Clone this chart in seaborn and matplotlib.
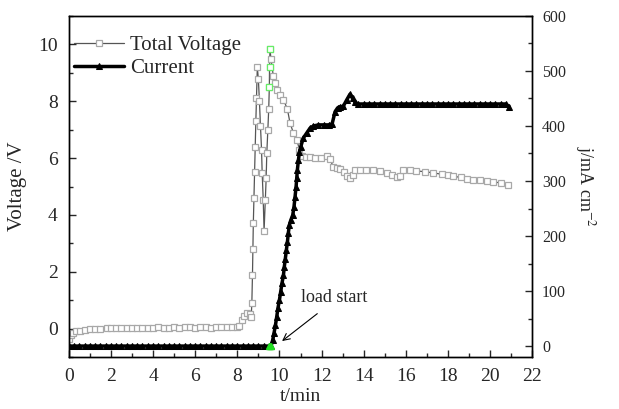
import matplotlib
matplotlib.use("Agg")
import matplotlib.pyplot as plt
import seaborn as sns
import pandas as pd
from matplotlib.ticker import MultipleLocator

# Total voltage (left axis)
volt_t = [0.0, 0.1, 0.22, 0.35, 0.54, 0.75, 1.0, 1.25, 1.5, 1.8, 2.0, 2.25, 2.5, 2.75,
          3.0, 3.25, 3.5, 3.75, 4.0, 4.25, 4.5, 4.75, 5.0, 5.25, 5.5, 5.75, 6.0, 6.25,
          6.5, 6.75, 7.0, 7.25, 7.5, 7.75, 8.0, 8.1, 8.2, 8.3, 8.45, 8.6, 8.66,
          8.69, 8.72, 8.74, 8.76, 8.79, 8.82, 8.85, 8.88, 8.91, 8.95,
          9.0, 9.05, 9.1, 9.15, 9.18, 9.23, 9.27,
          9.33, 9.37, 9.4, 9.45, 9.49, 9.52, 9.53, 9.55,
          9.6, 9.71, 9.79, 9.87, 10.03, 10.19, 10.38, 10.5, 10.66, 10.82, 10.95, 11.06,
          11.25, 11.45, 11.7, 11.95, 12.25, 12.4, 12.56, 12.72, 12.88, 13.05, 13.19,
          13.35, 13.47, 13.59, 13.83, 14.1, 14.46, 14.75, 15.09, 15.35, 15.57, 15.72,
          15.88, 16.2, 16.5, 16.9, 17.3, 17.7, 18.0, 18.25, 18.6, 18.9, 19.2, 19.5,
          19.85, 20.15, 20.5, 20.86]
volt_v = [-0.35, -0.22, -0.15, -0.1, -0.07, -0.04, -0.02, 0.0, 0.0, 0.01, 0.02, 0.02, 0.03, 0.02,
          0.03, 0.03, 0.02, 0.03, 0.03, 0.04, 0.03, 0.03, 0.04, 0.03, 0.04, 0.04, 0.03, 0.04,
          0.04, 0.03, 0.04, 0.04, 0.05, 0.04, 0.05, 0.1, 0.3, 0.45, 0.55, 0.5, 0.4,
          0.9, 1.9, 2.8, 3.7, 4.6, 5.5, 6.4, 7.3, 8.1, 9.2,
          8.77, 8.0, 7.12, 6.3, 5.48, 4.54, 3.42,
          4.54, 5.3, 6.18, 7.0, 7.71, 8.5, 9.2, 9.84,
          9.47, 8.88, 8.65, 8.41, 8.23, 8.06, 7.71, 7.24, 6.89, 6.65, 6.3, 6.09,
          6.05, 6.04, 6.02, 6.0, 6.07, 5.95, 5.69, 5.65, 5.62, 5.5, 5.36,
          5.29, 5.42, 5.57, 5.59, 5.57, 5.57, 5.53, 5.48, 5.42, 5.34, 5.38,
          5.59, 5.57, 5.55, 5.52, 5.48, 5.43, 5.4, 5.36, 5.32, 5.28, 5.24, 5.22,
          5.2, 5.17, 5.12, 5.06]

# Current density (right axis)
cur_t = [0.0, 0.25, 0.5, 0.75, 1.0, 1.25, 1.5, 1.75, 2.0, 2.25, 2.5, 2.75, 3.0, 3.25,
         3.5, 3.75, 4.0, 4.25, 4.5, 4.75, 5.0, 5.25, 5.5, 5.75, 6.0, 6.25, 6.5, 6.75,
         7.0, 7.25, 7.5, 7.75, 8.0, 8.25, 8.5, 8.75, 9.0, 9.25, 9.5, 9.6,
         9.68, 9.74, 9.81, 9.87, 9.93, 10.0, 10.06, 10.12, 10.19, 10.23, 10.28, 10.33,
         10.38, 10.42, 10.47, 10.54, 10.63, 10.69, 10.74, 10.79, 10.82, 10.85, 10.9,
         10.95, 11.01, 11.13, 11.29, 11.45, 11.61, 11.85, 12.1, 12.35, 12.5, 12.64,
         12.76, 12.88, 13.03, 13.2, 13.35, 13.47, 13.59, 13.75, 14.0, 14.25, 14.5,
         14.75, 15.0, 15.25, 15.5, 15.75, 16.0, 16.25, 16.5, 16.75, 17.0, 17.25, 17.5,
         17.75, 18.0, 18.25, 18.5, 18.75, 19.0, 19.25, 19.5, 19.75, 20.0, 20.25, 20.5,
         20.75, 20.9]
cur_j = [0, 0, 0, 0, 0, 0, 0, 0, 0, 0, 0, 0, 0, 0,
         0, 0, 0, 0, 0, 0, 0, 0, 0, 0, 0, 0, 0, 0,
         0, 0, 0, 0, 0, 0, 0, 0, 0, 0, 0, 0,
         11, 23, 38, 53, 69, 84, 99, 114, 129, 144, 159, 175,
         190, 205, 220, 229, 238, 253, 271, 290, 305, 320, 338,
         353, 362, 378, 387, 396, 400, 402, 402, 402, 404, 426,
         433, 435, 436, 448, 458, 450, 443, 440, 440, 440, 440,
         440, 440, 440, 440, 440, 440, 440, 440, 440, 440, 440, 440,
         440, 440, 440, 440, 440, 440, 440, 440, 440, 440, 440, 440,
         440, 435]

# points drawn in green in the original
green_v_t = [9.52, 9.53, 9.55]
green_v = [8.5, 9.2, 9.84]
green_j_t = [9.5, 9.55, 9.6]
green_j = [0, 0, 0]

sns.set_theme(style="ticks")
plt.rcParams["font.family"] = ["Liberation Serif", "DejaVu Serif"]
plt.rcParams["mathtext.fontset"] = "stix"

volt_df = pd.DataFrame({"t": volt_t, "V": volt_v})
cur_df = pd.DataFrame({"t": cur_t, "j": cur_j})

fig = plt.figure(figsize=(6.19, 4.09), dpi=100)
ax = fig.add_axes([0.111, 0.127, 0.749, 0.834])
ax2 = ax.twinx()

sns.lineplot(data=volt_df, x="t", y="V", ax=ax, sort=False, estimator=None,
             color="#555555", linewidth=0.9, marker="s", markersize=4.5,
             markerfacecolor="white", markeredgecolor="#a8a8a8", markeredgewidth=0.9,
             label="Total Voltage", legend=False)
ax.plot(green_v_t, green_v, ls="none", marker="s", markersize=4.5,
        markerfacecolor="white", markeredgecolor="#66ee66", markeredgewidth=0.9)

sns.lineplot(data=cur_df, x="t", y="j", ax=ax2, sort=False, estimator=None,
             color="black", linewidth=2.5, marker="^", markersize=5,
             markerfacecolor="black", markeredgecolor="black",
             label="Current", legend=False)
ax2.plot(green_j_t, green_j, ls="none", marker="^", markersize=5,
         color="#22dd22")

ax.set_xlim(0, 22)
ax.set_ylim(-1, 11)
ax2.set_ylim(-20, 600)

ax.xaxis.set_major_locator(MultipleLocator(2))
ax.xaxis.set_minor_locator(MultipleLocator(1))
ax.yaxis.set_major_locator(MultipleLocator(2))
ax.yaxis.set_minor_locator(MultipleLocator(1))
ax2.yaxis.set_major_locator(MultipleLocator(100))
ax2.yaxis.set_minor_locator(MultipleLocator(50))

ax.tick_params(axis="both", which="major", direction="in", length=5, width=1,
               labelsize=14, pad=8, top=False, right=False)
ax.tick_params(axis="both", which="minor", direction="in", length=3, width=1,
               top=False, right=False)
ax2.tick_params(axis="y", which="major", direction="in", length=5, width=1,
                labelsize=11.5, pad=7)
ax2.tick_params(axis="y", which="minor", direction="in", length=3, width=1)

for a in (ax, ax2):
    for s in a.spines.values():
        s.set_color("black")
        s.set_linewidth(1.0)

ax.set_xlabel("t/min", fontsize=14, labelpad=2)
ax.set_ylabel("Voltage /V", fontsize=15, labelpad=8)
ax2.set_ylabel("j/mA cm$^{-2}$", fontsize=13, rotation=270, labelpad=22)

ax2.annotate("", xy=(10.02, 6), xytext=(11.9, 62),
             arrowprops=dict(arrowstyle="->", color="black", lw=0.8))
ax2.text(11.0, 88, "load start", fontsize=13, ha="left", va="center")

h1, l1 = ax.get_legend_handles_labels()
h2, l2 = ax2.get_legend_handles_labels()
ax.legend(h1 + h2, l1 + l2, loc="upper left", bbox_to_anchor=(-0.02, 0.985),
          frameon=False, fontsize=15, handlelength=2.4, handletextpad=0.3,
          labelspacing=0.15, borderaxespad=0.3)

fig.savefig("out.png", dpi=100)
